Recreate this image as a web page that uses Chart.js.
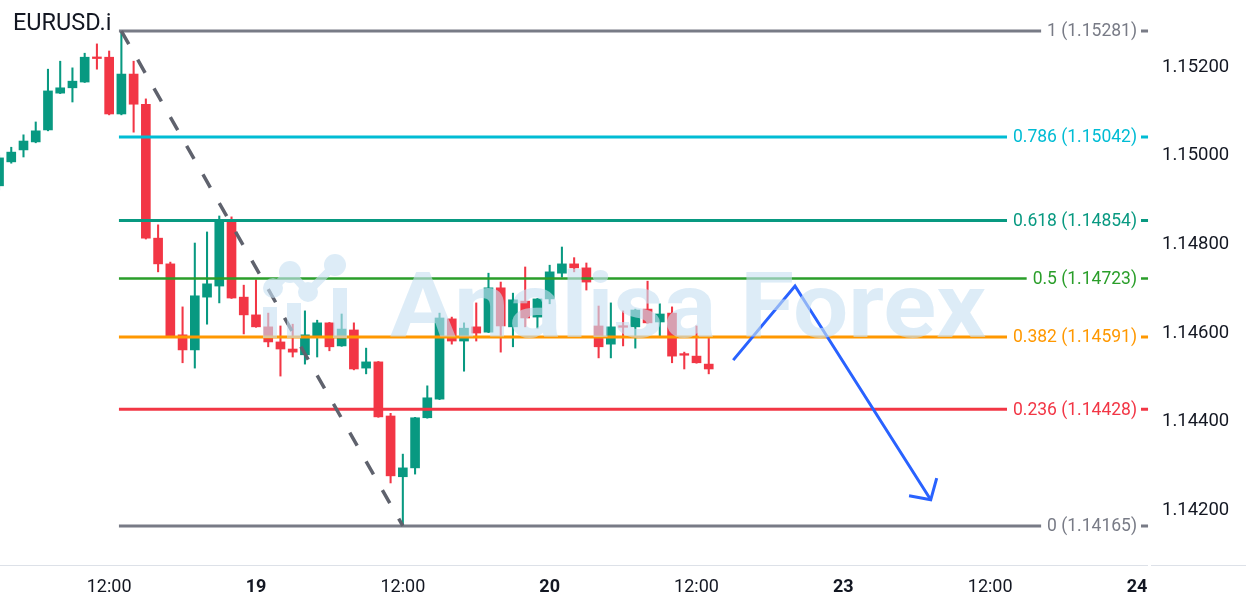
<!DOCTYPE html>
<html>
<head>
<meta charset="utf-8">
<script src="https://cdn.jsdelivr.net/npm/chart.js@4.4.1/dist/chart.umd.min.js"></script>
<style>
html,body{margin:0;padding:0;background:#ffffff;}
#wrap{width:1246px;height:608px;position:relative;}
</style>
</head>
<body>
<div id="wrap"><canvas id="c"></canvas></div>
<script>
// ---- DATA (hourly candles, hour index relative to 19th 00:00, weekend removed) ----
const symbol = 'EURUSD.i';
const hours  = [-21,-20,-19,-18,-17,-16,-15,-14,-13,-12,-11,-10,-9,-8,-7,-6,-5,-4,-3,-2,-1,
                0,1,2,3,4,5,6,7,8,9,10,11,12,13,14,15,16,17,18,19,20,21,22,23,24,25,26,27,28,29,30,31,32,33,34,35,36,37];
const opens  = [1.14932,1.14986,1.15013,1.15031,1.15058,1.15141,1.15153,1.15166,1.15220,1.15222,1.15094,1.15184,1.15116,1.14814,1.14756,1.14596,1.14562,1.14681,1.14706,1.14850,1.14681,
                1.14641,1.14614,1.14580,1.14564,1.14551,1.14591,1.14623,1.14571,1.14607,1.14521,1.14535,1.14413,1.14276,1.14296,1.14409,1.14451,1.14632,1.14582,1.14614,1.14602,1.14702,1.14614,1.14672,1.14636,1.14677,1.14735,1.14756,1.14747,1.14616,1.14575,1.14614,1.14614,1.14654,1.14625,1.14645,1.14551,1.14548,1.14530];
const highs  = [1.15001,1.15019,1.15047,1.15076,1.15195,1.15213,1.15198,1.15231,1.15252,1.15236,1.15281,1.15213,1.15128,1.14844,1.14760,1.14659,1.14803,1.14828,1.14864,1.14862,1.14708,
                1.14720,1.14645,1.14616,1.14620,1.14650,1.14629,1.14624,1.14643,1.14623,1.14566,1.14536,1.14419,1.14327,1.14410,1.14481,1.14645,1.14636,1.14623,1.14668,1.14735,1.14715,1.14690,1.14749,1.14678,1.14753,1.14794,1.14770,1.14758,1.14661,1.14668,1.14650,1.14654,1.14717,1.14666,1.14659,1.14557,1.14616,1.14589];
const lows   = [1.14923,1.14983,1.14997,1.15029,1.15056,1.15140,1.15121,1.15165,1.15195,1.15092,1.15092,1.15053,1.14812,1.14738,1.14591,1.14533,1.14521,1.14620,1.14668,1.14678,1.14598,
                1.14613,1.14569,1.14503,1.14546,1.14530,1.14546,1.14560,1.14570,1.14517,1.14508,1.14410,1.14262,1.14165,1.14282,1.14408,1.14450,1.14575,1.14514,1.14582,1.14601,1.14557,1.14569,1.14614,1.14611,1.14666,1.14726,1.14738,1.14697,1.14544,1.14544,1.14571,1.14566,1.14622,1.14593,1.14533,1.14519,1.14532,1.14508];
const closes = [1.14995,1.15008,1.15033,1.15056,1.15146,1.15153,1.15168,1.15222,1.15219,1.15094,1.15184,1.15116,1.14814,1.14756,1.14593,1.14562,1.14684,1.14711,1.14853,1.14679,1.14641,
                1.14614,1.14580,1.14564,1.14557,1.14596,1.14623,1.14569,1.14609,1.14519,1.14535,1.14411,1.14278,1.14296,1.14409,1.14454,1.14634,1.14582,1.14611,1.14600,1.14702,1.14616,1.14675,1.14634,1.14677,1.14738,1.14756,1.14747,1.14715,1.14569,1.14614,1.14613,1.14652,1.14623,1.14643,1.14548,1.14550,1.14533,1.14519];

const fibRatios = ['1','0.786','0.618','0.5','0.382','0.236','0'];
const fibPrices = [1.15281,1.15042,1.14854,1.14723,1.14591,1.14428,1.14165];
const fibColors = ['#787B86','#00BCD4','#089981','#2A9E2A','#FF9800','#F23645','#787B86'];
const fibStart = -11.2, fibEnd = 72.9;

const trendX = [-11, 12];
const trendY = [1.15281, 1.14165];

const arrowX = [39.0, 44.05, 55.14];
const arrowY = [1.14539, 1.14706, 1.14224];
const arrowHeadX = [53.37, 55.14, 55.63];
const arrowHeadY = [1.14233, 1.14224, 1.14273];

const yTickValues = [1.142,1.144,1.146,1.148,1.150,1.152];
const xTickValues = [-12,0,12,24,36,48,60,72];
const xTickLabels = ['12:00','19','12:00','20','12:00','23','12:00','24'];
const xTickBold   = [false,true,false,true,false,true,false,true];

const xMin = -20.92, xMax = 73.06;
const yMin = 1.14077, yMax = 1.15351;

// ---- build datasets ----
const UP = '#089981', DOWN = '#F23645';
const candleColors = closes.map((c,i)=> c >= opens[i] ? UP : DOWN);
const wickData = hours.map((h,i)=>({x:h, y:[lows[i], highs[i]]}));
const bodyData = hours.map((h,i)=>({x:h, y:[Math.min(opens[i],closes[i]), Math.max(opens[i],closes[i])]}));

const datasets = [
  {type:'bar', data:wickData, backgroundColor:candleColors, barThickness:1.4, grouped:false, order:20, borderWidth:0},
  {type:'bar', data:bodyData, backgroundColor:candleColors, barThickness:9, grouped:false, order:19, borderWidth:0, minBarLength:1.6}
];
fibPrices.forEach((p,i)=>{
  datasets.push({type:'line', data:[{x:fibStart,y:p},{x:fibEnd,y:p}], borderColor:fibColors[i],
    borderWidth: i===3 ? 2.5 : 3, pointRadius:0, order:5});
});
datasets.push({type:'line', data:trendX.map((x,i)=>({x, y:trendY[i]})), borderColor:'#5F626D', borderWidth:3.5,
  borderDash:[15,18], pointRadius:0, order:4});
datasets.push({type:'line', data:arrowX.map((x,i)=>({x, y:arrowY[i]})), borderColor:'#2962FF', borderWidth:3,
  pointRadius:0, order:3, borderJoinStyle:'miter'});
datasets.push({type:'line', data:arrowHeadX.map((x,i)=>({x, y:arrowHeadY[i]})), borderColor:'#2962FF', borderWidth:3,
  pointRadius:0, order:3, borderJoinStyle:'miter'});

const overlay = {
  id:'overlay',
  afterDatasetsDraw(chart){
    const {ctx, chartArea} = chart;
    const y = chart.scales.y;
    ctx.save();
    // fib labels
    ctx.font = '17.5px Roboto';
    ctx.textAlign = 'right';
    ctx.textBaseline = 'middle';
    const xr = chartArea.right - 13;
    fibRatios.forEach((r,i)=>{
      const py = y.getPixelForValue(fibPrices[i]);
      const t = r + ' (' + fibPrices[i].toFixed(5) + ')';
      const w = ctx.measureText(t).width;
      ctx.fillStyle = '#ffffff';
      ctx.fillRect(xr - w - 6, py - 11, w + 10, 22);
      ctx.fillStyle = fibColors[i];
      ctx.fillText(t, xr, py + 1);
    });
    // watermark (logo + text) drawn opaque offscreen then blended
    const off = document.createElement('canvas');
    off.width = chart.width; off.height = chart.height;
    const o = off.getContext('2d');
    const col = 'rgb(200,225,243)';
    o.fillStyle = col; o.strokeStyle = col;
    const L = chartArea.left;
    o.beginPath();
    o.rect(L+263,307,14,31); o.rect(L+287,303,14,35); o.rect(L+333,288,14,50);
    o.fill();
    o.beginPath();
    o.lineWidth = 8; o.lineJoin='round';
    o.moveTo(L+273,288); o.lineTo(L+290,272); o.lineTo(L+308,292); o.lineTo(L+335,265);
    o.stroke();
    [[273,288,10],[290,272,11],[308,292,10],[335,265,11]].forEach(c=>{
      o.beginPath(); o.arc(L+c[0],c[1],c[2],0,Math.PI*2); o.fill();
    });
    o.font = 'bold 90px Roboto';
    o.textBaseline = 'alphabetic';
    const txt = 'Analisa Forex';
    const tw = o.measureText(txt).width;
    o.save();
    o.translate(L+390, 337);
    o.scale(596/tw, 1);
    o.fillText(txt, 0, 0);
    o.restore();
    ctx.globalAlpha = 0.62;
    ctx.drawImage(off, 0, 0, chart.width, chart.height);
    ctx.restore();
  },
  afterDraw(chart){
    const {ctx, chartArea} = chart;
    ctx.save();
    ctx.strokeStyle = '#DDE1E8';
    ctx.lineWidth = 1;
    ctx.beginPath();
    ctx.moveTo(0, chartArea.bottom + 0.5); ctx.lineTo(chartArea.right - 2, chartArea.bottom + 0.5);
    ctx.moveTo(chartArea.right + 1, chartArea.bottom + 0.5); ctx.lineTo(chart.width, chartArea.bottom + 0.5);
    ctx.stroke();
    ctx.font = '23.5px Roboto';
    ctx.fillStyle = '#131722';
    ctx.textAlign = 'left';
    ctx.textBaseline = 'alphabetic';
    ctx.fillText(symbol, 13, 30);
    ctx.restore();
  }
};

new Chart(document.getElementById('c'), {
  type:'bar',
  data:{datasets},
  plugins:[overlay],
  options:{
    responsive:true,
    maintainAspectRatio:false,
    animation:false,
    layout:{padding:0},
    plugins:{legend:{display:false}, tooltip:{enabled:false}, title:{display:false}},
    scales:{
      x:{
        type:'linear', position:'bottom', min:xMin, max:xMax, offset:false,
        grid:{display:false, drawTicks:false, offset:false}, border:{display:false},
        afterBuildTicks:(s)=>{ s.ticks = xTickValues.map(v=>({value:v})); },
        afterFit:(s)=>{ s.height = 43; s.paddingLeft = 0; s.paddingRight = 0; },
        ticks:{
          autoSkip:false, maxRotation:0, minRotation:0, padding:12, color:'#131722',
          font:(ctx)=>({family:'Roboto', size:18, weight: xTickBold[ctx.index] ? 'bold' : 'normal'}),
          callback:(v,i)=> xTickLabels[i]
        }
      },
      y:{
        type:'linear', position:'right', min:yMin, max:yMax,
        grid:{display:false, drawTicks:false}, border:{display:false},
        afterBuildTicks:(s)=>{ s.ticks = yTickValues.map(v=>({value:v})); },
        afterFit:(s)=>{ s.width = 96; s.paddingTop = 0; s.paddingBottom = 0; },
        ticks:{
          padding:12, color:'#131722',
          font:{family:'Roboto', size:18.5, lineHeight:1.4},
          callback:(v)=> Number(v).toFixed(5)
        }
      }
    }
  }
});
</script>
</body>
</html>
